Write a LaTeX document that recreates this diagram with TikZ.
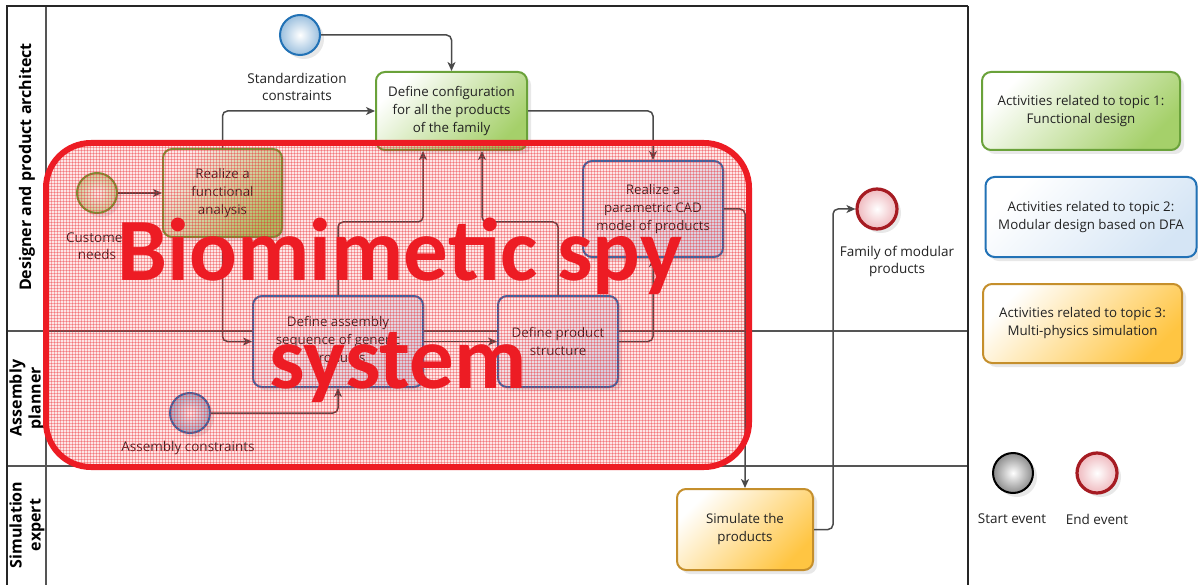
\documentclass[tikz,border=0pt]{standalone}
\usepackage{fontspec}
\setmainfont{Open Sans}
\newfontfamily\bigfont{Carlito}
\usetikzlibrary{arrows.meta,shadows,patterns}

\definecolor{grnB}{HTML}{6AA23A}
\definecolor{grnF}{HTML}{A5D06A}
\definecolor{bluB}{HTML}{2272B6}
\definecolor{bluF}{HTML}{D5E5F5}
\definecolor{orgB}{HTML}{C58F2C}
\definecolor{orgF}{HTML}{FFC542}
\definecolor{redB}{HTML}{A61B22}
\definecolor{redF}{HTML}{EFB9BE}
\definecolor{spyred}{HTML}{ED1C24}
\definecolor{flowc}{HTML}{4A4A4A}
\definecolor{txt}{HTML}{222222}
\definecolor{lanec}{HTML}{555555}

\tikzset{
  lbl/.style={font=\fontsize{13.5}{17}\selectfont, text=txt, align=center, inner sep=0pt},
  task/.style={rounded corners=9pt, line width=2pt, align=center, inner sep=2pt,
    font=\fontsize{13.3}{18}\selectfont, text=txt,
    drop shadow={shadow xshift=4pt,shadow yshift=-4pt,opacity=0.18}},
  grntask/.style={task, draw=grnB, top color=white, bottom color=grnF, shading angle=45},
  blutask/.style={task, draw=bluB, top color=white, bottom color=bluF, shading angle=45},
  orgtask/.style={task, draw=orgB, top color=white, bottom color=orgF, shading angle=45},
  evt/.style={circle, minimum size=40pt, inner sep=0pt,
    drop shadow={shadow xshift=4pt,shadow yshift=-4pt,opacity=0.18}},
  bluevt/.style={evt, draw=bluB, line width=2pt, inner color=white, outer color=bluB!45},
  grnevt/.style={evt, draw=grnB, line width=2pt, inner color=white, outer color=grnF!60},
  endevt/.style={evt, draw=redB, line width=3.2pt, inner color=white, outer color=redF},
  startevt/.style={evt, draw=black, line width=2pt, inner color=white, outer color=black!45},
  lane/.style={font=\fontsize{16}{19}\selectfont\bfseries, text=black, rotate=90, align=center, inner sep=0pt},
  flow/.style={draw=flowc, line width=1.5pt, rounded corners=5pt,
    -{Stealth[length=9pt,width=8pt,inset=2.5pt]}},
  legtxt/.style={font=\fontsize{13.3}{18}\selectfont},
  bigtxt/.style={font=\bigfont\fontsize{89}{100}\selectfont\bfseries, text=spyred, inner sep=0pt, anchor=base}
}

\begin{document}
\begin{tikzpicture}[x=1pt,y=-1pt]
\useasboundingbox (0,0) rectangle (1198,585);
\fill[white] (0,0) rectangle (1198,585);

% pool and lanes
\draw[lanec, line width=2pt] (7,331) -- (968,331);
\draw[lanec, line width=2pt] (7,466) -- (968,466);
\draw[lanec, line width=1.6pt] (46,6) -- (46,585);
\draw[black!85, line width=1.6pt] (968,6) -- (968,585);
\draw[black!85, line width=2.5pt] (7,585) -- (7,6) -- (968,6);

\node[lane] (l1) at (27,167) {Designer and product architect};
\node[lane] (l2) at (27,398) {Assembly\\planner};
\node[lane] (l3) at (27,525) {Simulation\\expert};

% events
\node[bluevt] (std) at (300,35) {};
\node[lbl] (stdl) at (297,87) {Standardization\\constraints};
\node[grnevt] (cust) at (97,193) {};
\node[lbl] (custl) at (97,246) {Customer\\needs};
\node[bluevt] (asm) at (190,413) {};
\node[lbl] (asml) at (188,448) {Assembly constraints};
\node[endevt] (fam) at (877,209) {};
\node[lbl] (faml) at (897,261) {Family of modular\\products};

% tasks
\node[grntask, minimum width=151pt, minimum height=78pt] (cfg) at (451.5,111)
  {Define configuration\\for all the products\\of the family};
\node[grntask, minimum width=119pt, minimum height=88pt] (rfa) at (222.5,193)
  {Realize a\\functional\\analysis};
\node[blutask, minimum width=140pt, minimum height=96pt] (cad) at (653,209)
  {Realize a\\parametric CAD\\model of products};
\node[blutask, minimum width=170pt, minimum height=91pt] (das) at (338,341.5)
  {Define assembly\\sequence of generic\\products};
\node[blutask, minimum width=120pt, minimum height=91pt] (dps) at (558,341.5)
  {Define product\\structure};
\node[orgtask, minimum width=136pt, minimum height=81pt] (sim) at (745,529.5)
  {Simulate the\\products};

% flows
\draw[flow] (std.east) -| (cfg.north);
\draw[flow] (rfa.north) |- (cfg.west);
\draw[flow] (rfa.south) |- (das.west);
\draw[flow] (cust.east) -- (rfa.west);
\draw[flow] (asm.east) -| (das.south);
\draw[flow] (das.north) -- ++(0,-73) -| ([xshift=-28.5pt]cfg.south);
\draw[flow] (dps.north) -- ++(0,-73) -| ([xshift=30.5pt]cfg.south);
\draw[flow] (das.east) -- (dps.west);
\draw[flow] (dps.east) -| (cad.south);
\draw[flow] (cfg.east) -| (cad.north);
\draw[flow] (cad.east) -| (sim.north);
\draw[flow] (sim.east) -- ++(19,0) |- (fam.west);

% legend
\node[grntask, minimum width=198pt, minimum height=78pt, legtxt] (lg1) at (1081,111)
  {Activities related to topic 1:\\Functional design};
\node[blutask, minimum width=211pt, minimum height=80pt, legtxt] (lg2) at (1091,217)
  {Activities related to topic 2:\\Modular design based on DFA};
\node[orgtask, minimum width=199pt, minimum height=79pt, legtxt] (lg3) at (1082.5,323.5)
  {Activities related to topic 3:\\Multi-physics simulation};
\node[startevt] (lgs) at (1013,473) {};
\node[lbl] (lgsl) at (1012,519) {Start event};
\node[endevt] (lge) at (1097,473) {};
\node[lbl] (lgel) at (1097,519) {End event};

% overlay
\fill[spyred, opacity=0.11, rounded corners=45pt] (46,143) rectangle (749,467);
\fill[pattern=grid, pattern color=spyred, opacity=0.32, rounded corners=45pt] (46,143) rectangle (749,467);
\draw[spyred, line width=6pt, rounded corners=45pt] (46,143) rectangle (749,467);
\node[bigtxt] (bt1) at (400,280) {Biomimetic spy};
\node[bigtxt] (bt2) at (398,388) {system};
\end{tikzpicture}
\end{document}
